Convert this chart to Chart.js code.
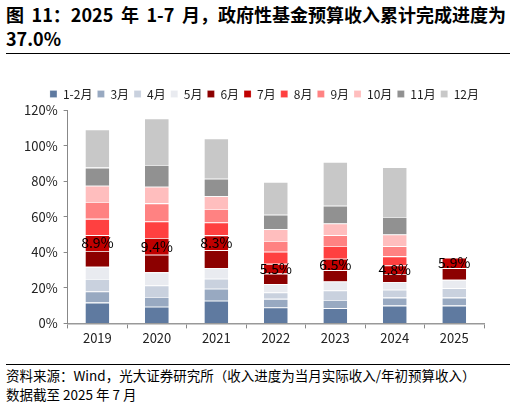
<!DOCTYPE html>
<html>
<head>
<meta charset="utf-8">
<script src="https://cdn.jsdelivr.net/npm/chart.js@4.4.1/dist/chart.umd.min.js"></script>
<style>
  html, body { margin: 0; padding: 0; background: #fff; }
  body { width: 516px; height: 404px; position: relative; overflow: hidden;
         font-family: "Noto Sans CJK SC", "Noto Sans", sans-serif; color: #000; }
  .title { position: absolute; left: 6px; top: 2px; width: 510px; font-size: 18px; font-weight: bold;
           line-height: 24px; white-space: nowrap; word-spacing: 3.5px; }
  .rule { position: absolute; left: 6px; width: 504px; height: 0; border-top: 1.5px solid #000; }
  .note { position: absolute; left: 6px; font-size: 13.5px; line-height: 19px; white-space: nowrap; }
  #wrap { position: absolute; left: 0; top: 60px; width: 516px; height: 288px; }
</style>
</head>
<body>
<div class="title">图 11：2025 年 1-7 月，政府性基金预算收入累计完成进度为<br>37.0%</div>
<div class="rule" style="top:53px"></div>
<div id="wrap"><canvas id="c"></canvas></div>
<div class="rule" style="top:364px;border-top-width:1px"></div>
<div class="note" style="top:366px">资料来源：Wind，光大证券研究所（收入进度为当月实际收入/年初预算收入）</div>
<div class="note" style="top:385px">数据截至 2025 年 7 月</div>
<script>
// years on the x axis
const years = ['2019', '2020', '2021', '2022', '2023', '2024', '2025'];
// month groups (legend)
const months = ['1-2月', '3月', '4月', '5月', '6月', '7月', '8月', '9月', '10月', '11月', '12月'];
// monthly progress increments, % of annual budget, one array per year
const y2019 = [11.7, 6.2, 7.1, 6.8, 8.9, 8.9, 9.2, 9.5, 9.1, 10.2, 21.5];
const y2020 = [9.4, 5.5, 6.4, 7.4, 9.9, 9.4, 9.3, 10.2, 9.3, 12.3, 26.1];
const y2021 = [12.8, 6.7, 5.6, 6.1, 10.0, 8.3, 7.3, 7.5, 7.2, 9.8, 22.7];
const y2022 = [8.9, 4.9, 3.6, 4.7, 5.9, 5.5, 6.8, 6.0, 6.7, 8.1, 18.4];
const y2023 = [8.5, 4.7, 5.3, 5.1, 6.3, 6.5, 7.1, 6.1, 6.6, 10.0, 24.6];
const y2024 = [10.0, 4.5, 4.4, 4.4, 4.5, 4.8, 5.1, 5.7, 6.6, 9.8, 28.1];
const y2025 = [10.0, 4.5, 5.3, 4.7, 6.6, 5.9, null, null, null, null, null];
const yTicks = [0, 20, 40, 60, 80, 100, 120];

const colors = ['#5f7aa0', '#98a9c1', '#c9d1de', '#e9ebf0', '#8c0000', '#c00000',
                '#ff4040', '#ff8282', '#ffbebe', '#919191', '#c8c8c8'];
const byYear = [y2019, y2020, y2021, y2022, y2023, y2024, y2025];
const labelMonth = 5; // 7月 values are printed on the bars

const datasets = months.map((m, i) => ({
  label: m,
  data: byYear.map(y => y[i]),
  backgroundColor: colors[i],
  borderColor: '#ffffff',
  borderWidth: { top: 0.8, bottom: 0, left: 0, right: 0 },
  borderSkipped: false,
  barPercentage: 0.4,
  categoryPercentage: 1.0
}));

const julyLabels = {
  id: 'julyLabels',
  afterDatasetsDraw(chart) {
    const ctx = chart.ctx;
    const meta = chart.getDatasetMeta(labelMonth);
    ctx.save();
    ctx.font = '14px "Noto Sans CJK SC", sans-serif';
    ctx.fillStyle = '#000';
    ctx.textAlign = 'center';
    ctx.textBaseline = 'middle';
    meta.data.forEach((bar, i) => {
      const v = chart.data.datasets[labelMonth].data[i];
      if (v == null) return;
      ctx.fillText(v.toFixed(1) + '%', bar.x, (bar.y + bar.base) / 2);
    });
    ctx.restore();
  }
};

new Chart(document.getElementById('c'), {
  type: 'bar',
  data: { labels: years, datasets },
  options: {
    responsive: true,
    maintainAspectRatio: false,
    animation: false,
    layout: { padding: { left: 18, right: 32, top: 23, bottom: 0 } },
    plugins: {
      legend: {
        position: 'top',
        align: 'end',
        labels: {
          boxWidth: 7, boxHeight: 7, padding: 5,
          color: '#222',
          font: { size: 12, family: '"Noto Sans CJK SC", sans-serif' }
        }
      },
      tooltip: { enabled: false }
    },
    scales: {
      x: {
        stacked: true,
        grid: { display: true, drawOnChartArea: false, drawTicks: true, tickLength: 5, color: '#888', offset: true },
        border: { display: true, color: '#999', width: 1.5 },
        ticks: { color: '#222', padding: 2, font: { size: 13, family: '"Noto Sans CJK SC", sans-serif' } }
      },
      y: {
        stacked: true,
        min: 0, max: 120,
        afterBuildTicks: axis => { axis.ticks = yTicks.map(v => ({ value: v })); },
        grid: { display: true, drawOnChartArea: false, drawTicks: true, tickLength: 4, color: '#888' },
        border: { display: true, color: '#888', width: 1 },
        ticks: { color: '#222', padding: 6, callback: v => v + '%',
                 font: { size: 13, family: '"Noto Sans CJK SC", sans-serif' } }
      }
    }
  },
  plugins: [julyLabels]
});
</script>
</body>
</html>
